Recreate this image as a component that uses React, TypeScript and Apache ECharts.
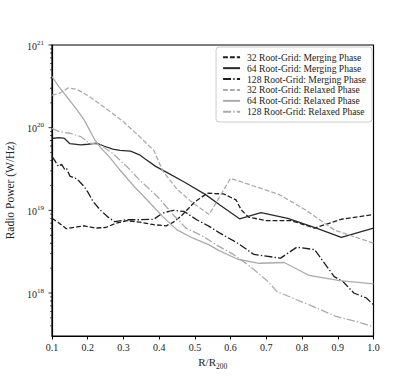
import React, { useEffect, useRef } from 'react';
import * as echarts from 'echarts';

// ---- Data (x = R/R200, y = Radio Power in W/Hz) ----
const merging32: [number, number][] = [
  [0.10, 8.0e18], [0.12, 7.0e18], [0.14, 6.0e18], [0.17, 6.3e18], [0.19, 6.5e18],
  [0.22, 6.1e18], [0.25, 6.2e18], [0.28, 7.0e18], [0.31, 7.5e18], [0.345, 7.2e18],
  [0.385, 6.7e18], [0.42, 6.5e18], [0.44, 7.2e18], [0.46, 8.4e18], [0.50, 1.27e19],
  [0.535, 1.61e19], [0.58, 1.58e19], [0.615, 1.34e19], [0.63, 1.01e19], [0.65, 8.3e18],
  [0.70, 7.5e18], [0.77, 7.5e18], [0.835, 6.1e18], [0.91, 7.8e18], [1.0, 8.9e18],
];
const merging64: [number, number][] = [
  [0.10, 7.4e19], [0.12, 7.6e19], [0.135, 7.4e19], [0.15, 6.4e19], [0.18, 6.2e19],
  [0.20, 6.3e19], [0.225, 6.5e19], [0.245, 6.0e19], [0.27, 5.5e19], [0.29, 5.3e19],
  [0.32, 5.2e19], [0.345, 4.7e19], [0.36, 4.2e19], [0.39, 3.4e19], [0.42, 2.9e19],
  [0.47, 2.2e19], [0.53, 1.55e19], [0.57, 1.16e19], [0.625, 7.9e18], [0.685, 9.4e18],
  [0.76, 8.0e18], [0.84, 6.1e18], [0.91, 4.7e18], [1.0, 6.1e18],
];
const merging128: [number, number][] = [
  [0.10, 4.5e19], [0.108, 4.0e19], [0.118, 3.4e19], [0.127, 3.6e19], [0.136, 3.1e19],
  [0.141, 3.2e19], [0.15, 2.6e19], [0.17, 2.4e19], [0.19, 1.94e19], [0.20, 1.67e19],
  [0.215, 1.28e19], [0.235, 1.01e19], [0.255, 8.4e18], [0.275, 7.3e18], [0.31, 7.7e18],
  [0.345, 7.7e18], [0.385, 7.8e18], [0.41, 9.3e18], [0.44, 1.0e19], [0.47, 9.7e18],
  [0.505, 7.7e18], [0.54, 6.4e18], [0.57, 5.3e18], [0.62, 4.0e18], [0.665, 2.93e18],
  [0.74, 2.64e18], [0.785, 3.58e18], [0.835, 3.35e18], [0.89, 1.58e18], [0.915, 1.37e18],
  [0.945, 1.0e18], [0.98, 8.7e17], [1.0, 7.2e17],
];
const relaxed32: [number, number][] = [
  [0.10, 2.48e20], [0.12, 2.59e20], [0.145, 3.02e20], [0.17, 2.9e20], [0.20, 2.45e20],
  [0.25, 1.72e20], [0.30, 1.18e20], [0.345, 7.8e19], [0.385, 5.3e19], [0.41, 3.0e19],
  [0.45, 1.8e19], [0.495, 1.22e19], [0.54, 8.9e18], [0.57, 1.48e19], [0.60, 2.44e19],
  [0.665, 1.97e19], [0.735, 1.56e19], [0.81, 1.01e19], [0.89, 5.8e18], [1.0, 4.0e18],
];
const relaxed64: [number, number][] = [
  [0.10, 4.16e20], [0.12, 3.1e20], [0.15, 2.13e20], [0.17, 1.64e20], [0.19, 1.24e20],
  [0.205, 9.4e19], [0.22, 7.1e19], [0.235, 5.8e19], [0.26, 4.46e19], [0.29, 3.08e19],
  [0.33, 1.94e19], [0.375, 1.22e19], [0.41, 8.4e18], [0.45, 5.8e18], [0.495, 4.6e18],
  [0.54, 3.82e18], [0.565, 3.3e18], [0.62, 2.56e18], [0.68, 2.29e18], [0.75, 2.34e18],
  [0.82, 1.63e18], [0.905, 1.41e18], [1.0, 1.29e18],
];
const relaxed128: [number, number][] = [
  [0.10, 9.8e19], [0.12, 8.95e19], [0.15, 8.56e19], [0.18, 7.8e19], [0.205, 6.5e19],
  [0.235, 6.2e19], [0.27, 4.9e19], [0.31, 3.37e19], [0.345, 2.33e19], [0.395, 1.47e19],
  [0.44, 8.8e18], [0.475, 6.1e18], [0.525, 4.8e18], [0.56, 3.82e18], [0.61, 2.89e18],
  [0.655, 2.09e18], [0.70, 1.44e18], [0.73, 1.04e18], [0.775, 8.65e17], [0.83, 6.9e17],
  [0.895, 5.2e17], [0.955, 4.5e17], [1.0, 3.9e17],
];

const seriesNames = [
  '32 Root-Grid: Merging Phase',
  '64 Root-Grid: Merging Phase',
  '128 Root-Grid: Merging Phase',
  '32 Root-Grid: Relaxed Phase',
  '64 Root-Grid: Relaxed Phase',
  '128 Root-Grid: Relaxed Phase',
];

const yMajorTicks = [1e18, 1e19, 1e20, 1e21];
const yMinorTicks = [
  4e17, 5e17, 6e17, 7e17, 8e17, 9e17,
  2e18, 3e18, 4e18, 5e18, 6e18, 7e18, 8e18, 9e18,
  2e19, 3e19, 4e19, 5e19, 6e19, 7e19, 8e19, 9e19,
  2e20, 3e20, 4e20, 5e20, 6e20, 7e20, 8e20, 9e20,
];

const FONT = '"Liberation Serif", "DejaVu Serif", serif';
const DARK = '#1e1e1e';
const LIGHT = '#ababab';
const LW = 1.3;
const DASH = [4.8, 2.1];
const DASHDOT = [8, 2.2, 1.4, 2.2];

function lineSeries(name: string, data: [number, number][], color: string, type: any) {
  return {
    name,
    type: 'line',
    data,
    symbol: 'none',
    showSymbol: false,
    lineStyle: { color, width: LW, type },
    itemStyle: { color },
    clip: true,
    z: 3,
  };
}

export default function App() {
  const ref = useRef<HTMLDivElement>(null);

  useEffect(() => {
    if (!ref.current) return;
    const chart = echarts.init(ref.current, undefined, { renderer: 'svg' });
    const option: any = {
      animation: false,
      backgroundColor: '#ffffff',
      grid: {
        left: 52,
        right: 41.5,
        top: 45,
        bottom: 42,
        containLabel: false,
        outerBoundsMode: 'none',
        show: true,
        borderColor: '#000',
        borderWidth: 1.2,
        backgroundColor: 'transparent',
      },
      legend: {
        data: seriesNames,
        orient: 'vertical',
        right: 43,
        top: 47,
        itemWidth: 17,
        itemHeight: 10,
        itemGap: 0.4,
        padding: [5, 6, 5, 6],
        borderColor: '#cccccc',
        borderWidth: 1,
        borderRadius: 3,
        backgroundColor: 'rgba(255,255,255,0.85)',
        itemStyle: { opacity: 0, borderWidth: 0 },
        textStyle: { fontFamily: FONT, fontSize: 9.6, color: '#222', lineHeight: 10.5, padding: [0, 0, 0, 2] },
        z: 10,
      },
      xAxis: {
        type: 'value',
        min: 0.1,
        max: 1.0,
        interval: 0.1,
        axisLine: { show: true, onZero: false, lineStyle: { color: '#000', width: 1.2 } },
        axisTick: { show: true, length: 3.5, lineStyle: { color: '#000', width: 1 } },
        axisLabel: {
          fontFamily: FONT,
          fontSize: 10,
          color: '#222',
          margin: 6,
          formatter: (v: number) => v.toFixed(1),
        },
        splitLine: { show: false },
        name: '{a|R/R}{b|200}',
        nameLocation: 'middle',
        nameGap: 20,
        nameTextStyle: {
          rich: {
            a: { fontFamily: FONT, fontSize: 11, color: '#222', lineHeight: 14, verticalAlign: 'top' },
            b: { fontFamily: FONT, fontSize: 7.5, color: '#222', lineHeight: 14, verticalAlign: 'bottom', padding: [5, 0, 0, 0] },
          },
        },
      },
      yAxis: {
        type: 'log',
        logBase: 10,
        min: 3.02e17,
        max: 1e21,
        axisLine: { show: true, lineStyle: { color: '#000', width: 1.2 } },
        axisTick: { show: false },
        minorTick: { show: false },
        splitLine: { show: false },
        minorSplitLine: { show: false },
        axisLabel: {
          margin: 8,
          showMinLabel: false,
          formatter: (v: number) => {
            const l = Math.log10(v);
            const e = Math.round(l);
            if (Math.abs(l - e) > 1e-6) return '';
            return `{b|10}{s|${e}}`;
          },
          rich: {
            b: { fontFamily: FONT, fontSize: 10, color: '#222', lineHeight: 12, verticalAlign: 'bottom' },
            s: { fontFamily: FONT, fontSize: 7, color: '#222', lineHeight: 8, verticalAlign: 'top' },
          },
        },
        name: 'Radio Power (W/Hz)',
        nameLocation: 'middle',
        nameGap: 30,
        nameTextStyle: { fontFamily: FONT, fontSize: 11.5, color: '#222' },
      },
      series: [
        lineSeries(seriesNames[0], merging32, DARK, DASH),
        lineSeries(seriesNames[1], merging64, '#2a2a2a', 'solid'),
        lineSeries(seriesNames[2], merging128, DARK, DASHDOT),
        lineSeries(seriesNames[3], relaxed32, LIGHT, DASH),
        lineSeries(seriesNames[4], relaxed64, LIGHT, 'solid'),
        lineSeries(seriesNames[5], relaxed128, LIGHT, DASHDOT),
        {
          name: 'yMajorTicks',
          type: 'scatter',
          data: yMajorTicks.map((v) => [0.1, v]),
          symbol: 'rect',
          symbolSize: [3.5, 1],
          symbolOffset: [-1.75, 0],
          itemStyle: { color: '#000' },
          clip: false,
          silent: true,
          z: 6,
        },
        {
          name: 'yMinorTicks',
          type: 'scatter',
          data: yMinorTicks.map((v) => [0.1, v]),
          symbol: 'rect',
          symbolSize: [2, 0.8],
          symbolOffset: [-1, 0],
          itemStyle: { color: '#000' },
          clip: false,
          silent: true,
          z: 6,
        },
      ],
    };
    chart.setOption(option);
    return () => chart.dispose();
  }, []);

  return (
    <div
      ref={ref}
      style={{ position: 'fixed', left: 0, top: 0, width: 415, height: 378, background: '#fff' }}
    />
  );
}
